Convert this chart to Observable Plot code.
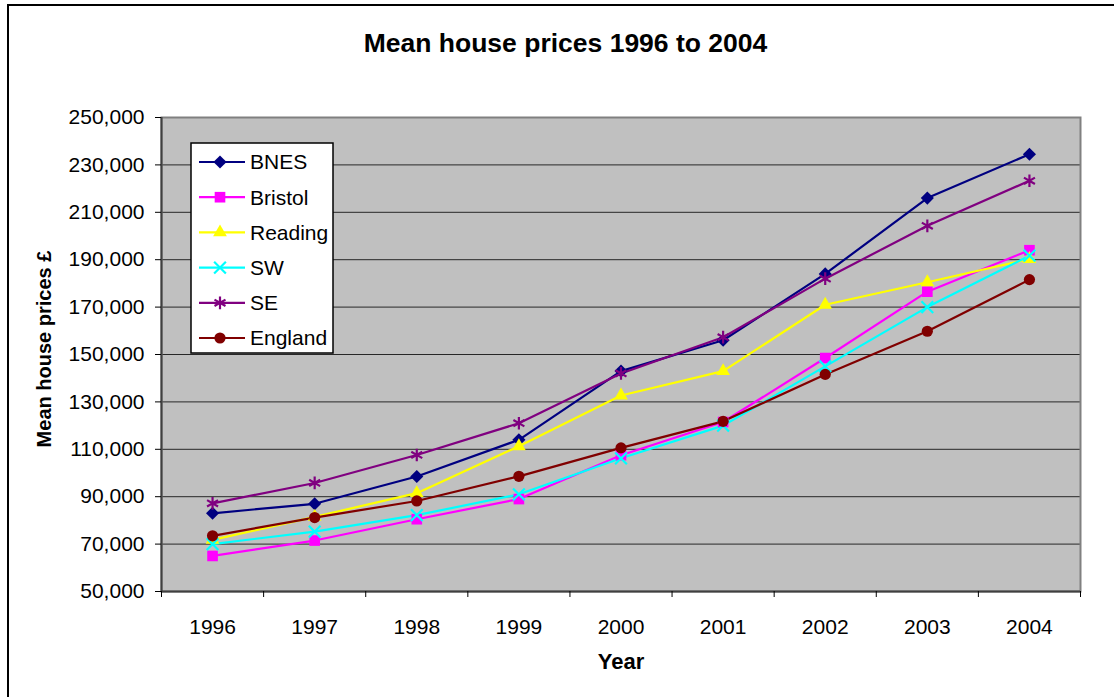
<!DOCTYPE html>
<html>
<head>
<meta charset="utf-8">
<script src="https://cdn.jsdelivr.net/npm/d3@7"></script>
<script src="https://cdn.jsdelivr.net/npm/@observablehq/plot@0.6"></script>
<style>
  html, body { margin: 0; padding: 0; background: #fff; }
  #chart svg { display: block; }
</style>
</head>
<body>
<div id="chart"></div>
<script>
// ---- data ----
const years = [1996, 1997, 1998, 1999, 2000, 2001, 2002, 2003, 2004];
const bnes    = [83000, 87000, 98500, 114000, 143000, 156000, 184000, 216000, 234500];
const bristol = [65000, 71500, 80500, 89000, 107500, 121500, 148500, 176500, 194000];
const reading = [71800, 81500, 91500, 111300, 132700, 143000, 171000, 180500, 190300];
const sw      = [70000, 75300, 82200, 91000, 106200, 120000, 145000, 170000, 191700];
const se      = [87200, 95800, 107600, 121000, 142000, 157300, 182000, 204300, 223300];
const england = [73500, 81200, 88200, 98600, 110600, 121800, 141600, 159800, 181600];
const seriesNames = ["BNES", "Bristol", "Reading", "SW", "SE", "England"];
const yTicks = [50000, 70000, 90000, 110000, 130000, 150000, 170000, 190000, 210000, 230000, 250000];
const titleText = "Mean house prices 1996 to 2004";
const yLabel = "Mean house prices £";
const xLabel = "Year";

// ---- styling ----
const styles = {
  "BNES":    {color: "#000080", symbol: "diamond2", r: 5.9, filled: true,  d3sym: d3.symbolDiamond2},
  "Bristol": {color: "#FF00FF", symbol: "square",   r: 6.0, filled: true,  d3sym: d3.symbolSquare},
  "Reading": {color: "#FFFF00", symbol: "triangle", r: 5.1, filled: true,  d3sym: d3.symbolTriangle},
  "SW":      {color: "#00FFFF", symbol: "times",    r: 5.4, filled: false, d3sym: d3.symbolTimes},
  "SE":      {color: "#800080", symbol: "asterisk", r: 6.0, filled: false, d3sym: d3.symbolAsterisk},
  "England": {color: "#800000", symbol: "circle",   r: 5.6, filled: true,  d3sym: d3.symbolCircle}
};
const valuesBySeries = {BNES: bnes, Bristol: bristol, Reading: reading, SW: sw, SE: se, England: england};
const rows = seriesNames.map(name => years.map((yr, i) => ({year: yr, value: valuesBySeries[name][i], series: name})));

const font = "'Liberation Sans', Arial, sans-serif";
const boundaries = d3.range(years.length + 1).map(i => years[0] - 0.5 + i);

const seriesMarks = [];
rows.forEach(data => {
  const s = styles[data[0].series];
  seriesMarks.push(Plot.line(data, {x: "year", y: "value", stroke: s.color, strokeWidth: 2.2}));
});
rows.forEach(data => {
  const s = styles[data[0].series];
  seriesMarks.push(Plot.dot(data, {
    x: "year", y: "value", symbol: () => s.symbol, r: s.r,
    fill: s.filled ? s.color : "none",
    stroke: s.filled ? "none" : s.color,
    strokeWidth: s.filled ? 0 : 2.2
  }));
});

const W = 1114, H = 697;
const mL = 161, mR = 34, mT = 117, mB = 106;

const chart = Plot.plot({
  width: W, height: H,
  marginLeft: mL, marginRight: mR, marginTop: mT, marginBottom: mB,
  style: {fontFamily: font, background: "white", color: "#000", overflow: "visible"},
  x: {type: "linear", domain: [years[0] - 0.5, years[years.length - 1] + 0.5]},
  y: {domain: [yTicks[0], yTicks[yTicks.length - 1]]},
  symbol: {type: "identity"},
  marks: [
    Plot.frame({fill: "#C0C0C0", stroke: null}),
    Plot.gridY(yTicks.slice(1, -1), {stroke: "#000", strokeOpacity: 0.8, strokeWidth: 1}),
    Plot.frame({stroke: "#808080", strokeWidth: 2, fill: "none"}),
    Plot.ruleX([years[0] - 0.5], {stroke: "#404040", strokeWidth: 2}),
    Plot.ruleY([yTicks[0]], {stroke: "#404040", strokeWidth: 2}),
    ...seriesMarks,
    Plot.axisY(yTicks, {tickSize: 6, tickPadding: 11, fontSize: 21, tickFormat: d3.format(","), label: null, stroke: "#000"}),
    Plot.axisX(boundaries, {tickSize: 6, tickFormat: () => "", label: null, stroke: "#000"}),
    Plot.axisX(years, {tickSize: 0, tickPadding: 28, fontSize: 21, tickFormat: d => String(d), label: null})
  ]
});

document.getElementById("chart").appendChild(chart);

// ---- decorations: outer border, titles, legend ----
const svg = d3.select(chart);
svg.insert("rect", ":first-child")
  .attr("x", 8).attr("y", 5).attr("width", 1300).attr("height", 900)
  .attr("fill", "none").attr("stroke", "#000").attr("stroke-width", 2);

svg.append("text")
  .attr("x", 565.5).attr("y", 51.5)
  .attr("text-anchor", "middle")
  .attr("font-family", font).attr("font-weight", "bold").attr("font-size", 26.5)
  .text(titleText);

svg.append("text")
  .attr("transform", "translate(51,349) rotate(-90)")
  .attr("text-anchor", "middle")
  .attr("font-family", font).attr("font-weight", "bold").attr("font-size", 20)
  .text(yLabel);

svg.append("text")
  .attr("x", 621).attr("y", 669)
  .attr("text-anchor", "middle")
  .attr("font-family", font).attr("font-weight", "bold").attr("font-size", 22)
  .text(xLabel);

const lg = svg.append("g");
lg.append("rect")
  .attr("x", 191).attr("y", 143).attr("width", 142).attr("height", 210)
  .attr("fill", "#fff").attr("stroke", "#000").attr("stroke-width", 1.5);
seriesNames.forEach((name, i) => {
  const s = styles[name];
  const cy = 162 + i * 35.2;
  lg.append("line").attr("x1", 199).attr("x2", 245).attr("y1", cy).attr("y2", cy)
    .attr("stroke", s.color).attr("stroke-width", 2.2);
  lg.append("path")
    .attr("transform", `translate(220,${cy})`)
    .attr("d", d3.symbol(s.d3sym, Math.PI * s.r * s.r)())
    .attr("fill", s.filled ? s.color : "none")
    .attr("stroke", s.filled ? "none" : s.color)
    .attr("stroke-width", s.filled ? 0 : 2.2);
  lg.append("text")
    .attr("x", 250).attr("y", cy)
    .attr("dy", "0.35em")
    .attr("text-anchor", "start")
    .attr("font-family", font).attr("font-size", 21)
    .text(name);
});
</script>
</body>
</html>
